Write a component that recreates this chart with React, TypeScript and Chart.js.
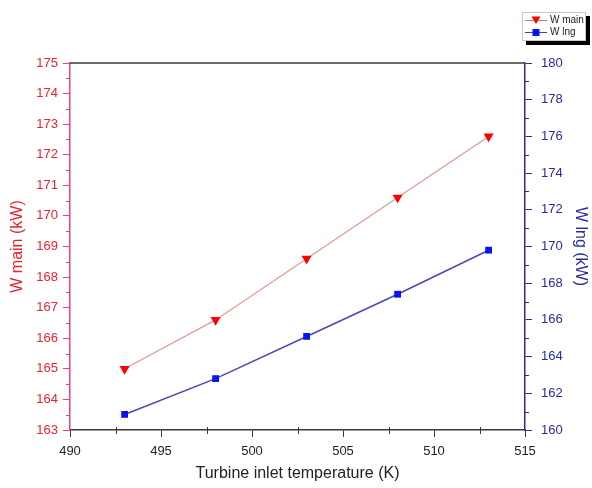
import React, { useEffect, useRef } from "react";
import { Chart, registerables } from "chart.js";

Chart.register(...registerables);

// Turbine inlet temperature (K)
const temperatures = [493, 498, 503, 508, 513];
// Main turbine work (kW), left axis
const wMain = [165.0, 166.6, 168.6, 170.6, 172.6];
// LNG turbine work (kW), right axis
const wLng = [160.85, 162.8, 165.1, 167.4, 169.8];

const seriesNames = ["W main", "W lng"];
const xTitle = "Turbine inlet temperature (K)";
const leftTitle = "W main (kW)";
const rightTitle = "W lng (kW)";

const FONT = "Arial, 'Liberation Sans', sans-serif";
const RED = "#e8232f";
const PINK = "#e0408c";
const NAVY = "#2b2ba0";
const BLUE = "#0a14f0";
const AXIS_DARK = "#3a3a3a";

// Minor ticks between the major ones, plus the top frame line
const minorTicks = {
  id: "minorTicks",
  afterDraw(chart: any) {
    const { ctx, chartArea } = chart;
    const x = chart.scales.x;
    const y = chart.scales.y;
    const y1 = chart.scales.y1;
    ctx.save();

    ctx.strokeStyle = AXIS_DARK;
    ctx.lineWidth = 1.5;
    ctx.beginPath();
    ctx.moveTo(chartArea.left, chartArea.top);
    ctx.lineTo(chartArea.right, chartArea.top);
    ctx.stroke();

    ctx.lineWidth = 1;
    ctx.strokeStyle = AXIS_DARK;
    for (let v = x.min + 2.5; v < x.max; v += 5) {
      const px = Math.round(x.getPixelForValue(v)) + 0.5;
      ctx.beginPath();
      ctx.moveTo(px, chartArea.bottom - 3);
      ctx.lineTo(px, chartArea.bottom + 4);
      ctx.stroke();
    }
    ctx.strokeStyle = PINK;
    for (let v = y.min + 0.5; v < y.max; v += 1) {
      const py = Math.round(y.getPixelForValue(v)) + 0.5;
      ctx.beginPath();
      ctx.moveTo(chartArea.left - 4, py);
      ctx.lineTo(chartArea.left, py);
      ctx.stroke();
    }
    ctx.strokeStyle = NAVY;
    for (let v = y1.min + 1; v < y1.max; v += 2) {
      const py = Math.round(y1.getPixelForValue(v)) + 0.5;
      ctx.beginPath();
      ctx.moveTo(chartArea.right, py);
      ctx.lineTo(chartArea.right + 4, py);
      ctx.stroke();
    }
    ctx.restore();
  },
};

// Boxed legend with drop shadow in the top-right corner
const boxLegend = {
  id: "boxLegend",
  afterDraw(chart: any) {
    const { ctx } = chart;
    const bx = 522;
    const by = 12;
    const bw = 64;
    const bh = 29;
    ctx.save();
    ctx.fillStyle = "#000";
    ctx.fillRect(bx + 4, by + 4, bw, bh);
    ctx.fillStyle = "#fff";
    ctx.fillRect(bx, by, bw, bh);
    ctx.strokeStyle = "#c8c8c8";
    ctx.lineWidth = 1;
    ctx.strokeRect(bx + 0.5, by + 0.5, bw - 1, bh - 1);

    const rows = [
      { y: by + 8, line: "#e07070", mark: "tri", color: "#ff0000", label: seriesNames[0] },
      { y: by + 20, line: "#4040c0", mark: "sq", color: BLUE, label: seriesNames[1] },
    ];
    for (const r of rows) {
      ctx.strokeStyle = r.line;
      ctx.lineWidth = 1;
      ctx.beginPath();
      ctx.moveTo(bx + 3, r.y + 0.5);
      ctx.lineTo(bx + 25, r.y + 0.5);
      ctx.stroke();
      ctx.fillStyle = r.color;
      const cx = bx + 14;
      if (r.mark === "tri") {
        ctx.beginPath();
        ctx.moveTo(cx - 4.5, r.y - 3.5);
        ctx.lineTo(cx + 4.5, r.y - 3.5);
        ctx.lineTo(cx, r.y + 4);
        ctx.closePath();
        ctx.fill();
      } else {
        ctx.fillRect(cx - 3.5, r.y - 3, 7, 7);
      }
      ctx.fillStyle = "#222";
      ctx.font = `10px ${FONT}`;
      ctx.textBaseline = "middle";
      ctx.textAlign = "left";
      ctx.fillText(r.label, bx + 28, r.y + 0.5);
    }
    ctx.restore();
  },
};

export default function App() {
  const canvasRef = useRef<HTMLCanvasElement | null>(null);

  useEffect(() => {
    const canvas = canvasRef.current;
    if (!canvas) return;
    const chart = new Chart(canvas, {
      type: "line",
      data: {
        datasets: [
          {
            label: seriesNames[0],
            data: temperatures.map((t, i) => ({ x: t, y: wMain[i] })),
            yAxisID: "y",
            borderColor: "#e09a94",
            borderWidth: 1.2,
            pointStyle: "triangle",
            rotation: 180,
            pointRadius: 5.8,
            pointBackgroundColor: "#ff0000",
            pointBorderColor: "#ff0000",
            pointBorderWidth: 0,
            tension: 0,
          },
          {
            label: seriesNames[1],
            data: temperatures.map((t, i) => ({ x: t, y: wLng[i] })),
            yAxisID: "y1",
            borderColor: "#4a4ab8",
            borderWidth: 1.6,
            pointStyle: "rect",
            pointRadius: 4.8,
            pointBackgroundColor: BLUE,
            pointBorderColor: BLUE,
            pointBorderWidth: 0,
            tension: 0,
          },
        ],
      },
      options: {
        animation: false,
        responsive: false,
        events: [],
        layout: { padding: { top: 63, left: 0, right: 0, bottom: 0 } },
        plugins: { legend: { display: false }, tooltip: { enabled: false } },
        scales: {
          x: {
            type: "linear",
            min: 490,
            max: 515,
            afterFit: (s: any) => {
              s.height = 58;
            },
            ticks: {
              stepSize: 5,
              color: "#222",
              padding: 7,
              font: { family: FONT, size: 13 },
            },
            grid: {
              drawOnChartArea: false,
              drawTicks: true,
              tickLength: 7,
              color: AXIS_DARK,
            },
            border: { display: true, color: AXIS_DARK, width: 1.5 },
            title: {
              display: true,
              text: xTitle,
              color: "#222",
              font: { family: FONT, size: 16 },
              padding: { top: 0, bottom: 5 },
            },
          },
          y: {
            type: "linear",
            position: "left",
            min: 163,
            max: 175,
            afterFit: (s: any) => {
              s.width = 70;
            },
            ticks: {
              stepSize: 1,
              color: RED,
              padding: 5,
              font: { family: FONT, size: 13 },
            },
            grid: {
              drawOnChartArea: false,
              drawTicks: true,
              tickLength: 7,
              color: PINK,
            },
            border: { display: true, color: PINK, width: 1.5 },
            title: {
              display: true,
              text: leftTitle,
              color: RED,
              font: { family: FONT, size: 16 },
              padding: { top: 8, bottom: 0 },
            },
          },
          y1: {
            type: "linear",
            position: "right",
            min: 160,
            max: 180,
            afterFit: (s: any) => {
              s.width = 67;
            },
            ticks: {
              stepSize: 2,
              color: NAVY,
              padding: 9,
              font: { family: FONT, size: 13 },
            },
            grid: {
              drawOnChartArea: false,
              drawTicks: true,
              tickLength: 7,
              color: NAVY,
            },
            border: { display: true, color: NAVY, width: 1.5 },
            title: {
              display: true,
              text: rightTitle,
              color: NAVY,
              font: { family: FONT, size: 16 },
              padding: { top: 2, bottom: 0 },
            },
          },
        },
      },
      plugins: [minorTicks, boxLegend],
    } as any);
    return () => chart.destroy();
  }, []);

  return (
    <div style={{ position: "fixed", left: 0, top: 0, width: 592, height: 488, background: "#fff" }}>
      <canvas ref={canvasRef} width={592} height={488} style={{ display: "block" }} />
    </div>
  );
}
